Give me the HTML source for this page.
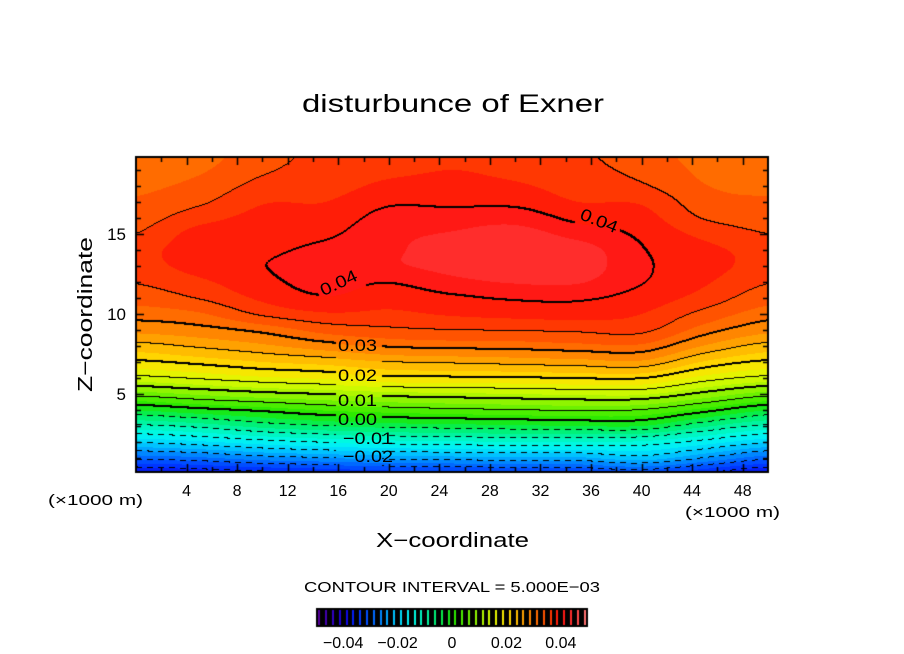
<!DOCTYPE html>
<html><head><meta charset="utf-8">
<style>
body{margin:0;background:#fff;width:904px;height:654px;overflow:hidden;font-family:"Liberation Sans","DejaVu Sans",sans-serif;}
#wrap{position:relative;width:904px;height:654px;}
canvas{position:absolute;left:0;top:0;}
svg{position:absolute;left:0;top:0;}
</style></head>
<body><div id="wrap">
<canvas id="cv" width="904" height="654"></canvas>
<svg id="sv" width="904" height="654">
<text x="302" y="112" font-size="25" textLength="302" lengthAdjust="spacingAndGlyphs">disturbunce of Exner</text>
<text x="376" y="547" font-size="20" textLength="153" lengthAdjust="spacingAndGlyphs">X−coordinate</text>
<text transform="translate(92,392) rotate(-90)" font-size="20" textLength="155" lengthAdjust="spacingAndGlyphs">Z−coordinate</text>
<text x="48" y="505" font-size="15" textLength="95" lengthAdjust="spacingAndGlyphs">(×1000 m)</text>
<text x="685" y="517" font-size="15" textLength="95" lengthAdjust="spacingAndGlyphs">(×1000 m)</text>
<text x="304" y="592" font-size="15" textLength="296" lengthAdjust="spacingAndGlyphs">CONTOUR INTERVAL = 5.000E−03</text>
<g font-size="17">
<text x="338" y="351" textLength="39" lengthAdjust="spacingAndGlyphs">0.03</text>
<text x="338" y="381" textLength="39" lengthAdjust="spacingAndGlyphs">0.02</text>
<text x="338" y="406" textLength="39" lengthAdjust="spacingAndGlyphs">0.01</text>
<text x="338" y="425" textLength="39" lengthAdjust="spacingAndGlyphs">0.00</text>
<text x="343" y="444" textLength="50" lengthAdjust="spacingAndGlyphs">−0.01</text>
<text x="343" y="462" textLength="50" lengthAdjust="spacingAndGlyphs">−0.02</text>
<text x="0" y="0" text-anchor="middle" textLength="39" lengthAdjust="spacingAndGlyphs" transform="translate(341,288) rotate(-25)">0.04</text>
<text x="0" y="0" text-anchor="middle" textLength="39" lengthAdjust="spacingAndGlyphs" transform="translate(597,226) rotate(22)">0.04</text>
</g>
</svg>
</div>
<script>
// grid: columns at X = 0,5,...,50 (x1000 m); rows at Z = 0..20
const xCoords=[0,5,10,15,20,25,30,35,40,45,50];
const zCoords=[0,1,2,3,4,5,6,7,8,9,10,11,12,13,14,15,16,17,18,19,20];
const col0=[-0.038,-0.029,-0.0195,-0.0105,-0.0023,0.0063,0.0142,0.0197,0.0241,0.0283,0.0312,0.0335,0.0352,0.0365,0.0365,0.035,0.0338,0.0328,0.032,0.0315,0.031];
const col5=[-0.037,-0.028,-0.018,-0.009,-0.0005,0.008,0.0155,0.021,0.0255,0.0292,0.0322,0.0352,0.037,0.0385,0.039,0.0385,0.0365,0.0345,0.0332,0.0322,0.0315];
const col10=[-0.036,-0.026,-0.016,-0.0065,0.001,0.0095,0.017,0.0225,0.027,0.0309,0.0355,0.038,0.0393,0.0399,0.0395,0.039,0.0383,0.0373,0.0358,0.0346,0.034];
const col15=[-0.035,-0.025,-0.0145,-0.005,0.0028,0.0105,0.018,0.0235,0.029,0.0335,0.0372,0.0398,0.0409,0.0412,0.0406,0.0395,0.0385,0.0375,0.0365,0.036,0.0356];
const col20=[-0.034,-0.024,-0.0135,-0.004,0.0038,0.0115,0.0195,0.025,0.0305,0.0345,0.037,0.0385,0.0402,0.0421,0.0421,0.0418,0.0409,0.0395,0.038,0.037,0.0365];
const col25=[-0.034,-0.0235,-0.013,-0.0035,0.0045,0.012,0.0198,0.0255,0.031,0.035,0.0378,0.0396,0.0418,0.0433,0.0435,0.0427,0.0412,0.0393,0.038,0.0375,0.037];
const col30=[-0.033,-0.023,-0.0125,-0.003,0.005,0.0125,0.02,0.026,0.0312,0.0352,0.0383,0.0404,0.0427,0.0442,0.0445,0.0436,0.0415,0.0392,0.0378,0.037,0.0367];
const col35=[-0.033,-0.023,-0.0125,-0.0025,0.0055,0.013,0.0205,0.0265,0.0318,0.0355,0.0385,0.0405,0.0427,0.0439,0.0437,0.0415,0.0392,0.0375,0.0365,0.0358,0.0354];
const col40=[-0.032,-0.021,-0.013,-0.0025,0.005,0.013,0.0205,0.027,0.032,0.0357,0.0375,0.039,0.0402,0.0405,0.0402,0.0395,0.0385,0.0372,0.0353,0.0343,0.0338];
const col45=[-0.035,-0.025,-0.016,-0.007,0.0015,0.0095,0.0165,0.0222,0.0273,0.0313,0.0342,0.0365,0.0378,0.0385,0.0382,0.0368,0.0348,0.0335,0.0326,0.032,0.0315];
const col50=[-0.038,-0.029,-0.0195,-0.0105,-0.0023,0.0063,0.0142,0.0197,0.0241,0.0283,0.0312,0.0335,0.0352,0.0365,0.0365,0.035,0.0338,0.0328,0.032,0.0315,0.031];
const columns=[col0,col5,col10,col15,col20,col25,col30,col35,col40,col45,col50];
const xTicks=[4,8,12,16,20,24,28,32,36,40,44,48];
const zTicks=[5,10,15];
const cbTicks=[-0.04,-0.02,0,0.02,0.04];
const cbTickLabels=["−0.04","−0.02","0","0.02","0.04"];
const contourInterval=0.005;

const PL=136,PR=768,PT=157,PB=472;
const xMin=0,xMax=50,zMin=0.125,zMax=19.81;
function xs(x){return PL+(x-xMin)/(xMax-xMin)*(PR-PL);}
function zs(z){return PB-(z-zMin)/(zMax-zMin)*(PB-PT);}
function xinv(px){return xMin+(px-PL)/(PR-PL)*(xMax-xMin);}
function zinv(py){return zMin+(PB-py)/(PB-PT)*(zMax-zMin);}

function cr(p0,p1,p2,p3,t){return 0.5*((2*p1)+(-p0+p2)*t+(2*p0-5*p1+4*p2-p3)*t*t+(-p0+3*p1-3*p2+p3)*t*t*t);}
function cell(a,i){return a[Math.max(0,Math.min(a.length-1,i))];}
function interp1(arr,u){const i=Math.floor(u);const t=u-i;return cr(cell(arr,i-1),cell(arr,i),cell(arr,i+1),cell(arr,i+2),t);}
function field(x,z){
  const dx=xCoords[1]-xCoords[0],dz=zCoords[1]-zCoords[0];
  let u=(x-xCoords[0])/dx, v=(z-zCoords[0])/dz;
  u=Math.max(0,Math.min(xCoords.length-1.0001,u));v=Math.max(0,Math.min(zCoords.length-1.0001,v));
  const i=Math.floor(u),t=u-i;
  const vals=[];
  for(let k=-1;k<=2;k++){vals.push(interp1(cell(columns,i+k),v));}
  return cr(vals[0],vals[1],vals[2],vals[3],t);
}
const stops=[[-0.05,[96,0,150]],[-0.04,[20,0,220]],[-0.035,[0,40,255]],[-0.03,[0,90,255]],[-0.025,[0,150,255]],[-0.02,[0,210,255]],[-0.015,[0,250,240]],[-0.01,[0,245,180]],[-0.005,[0,240,100]],[0,[30,230,0]],[0.005,[90,240,0]],[0.01,[160,245,0]],[0.015,[220,250,0]],[0.02,[255,225,0]],[0.025,[255,175,0]],[0.03,[255,120,0]],[0.035,[255,70,0]],[0.04,[255,15,10]],[0.045,[255,55,55]],[0.05,[255,130,130]]];
function color(v){
  if(v<=stops[0][0])return stops[0][1];
  for(let k=1;k<stops.length;k++){if(v<=stops[k][0]){const a=stops[k-1],b=stops[k];const t=(v-a[0])/(b[0]-a[0]);return a[1].map((c,j)=>Math.round(c+(b[1][j]-c)*t));}}
  return stops[stops.length-1][1];
}
const cv=document.getElementById('cv');const ctx=cv.getContext('2d');
const W=PR-PL,H=PB-PT;
const vals=new Float32Array((W+3)*(H+3));
for(let j=0;j<H+3;j++)for(let i=0;i<W+3;i++){vals[j*(W+3)+i]=field(xinv(PL+i+0.5),zinv(PT+j+0.5));}
const img=ctx.createImageData(W,H);
const band=0.0025;
for(let j=0;j<H;j++)for(let i=0;i<W;i++){
  const v=vals[j*(W+3)+i];const q=(Math.floor(v/band)+0.5)*band;const c=color(q);
  const o=(j*W+i)*4;img.data[o]=c[0];img.data[o+1]=c[1];img.data[o+2]=c[2];img.data[o+3]=255;
}
function lvl(v){return Math.floor(v/contourInterval);}
for(let j=0;j<H;j++)for(let i=0;i<W;i++){
  const a=vals[j*(W+3)+i],b=vals[j*(W+3)+i+1],c=vals[(j+1)*(W+3)+i];
  const la=lvl(a),lb=lvl(b),lc=lvl(c);
  let L=null;
  if(la!==lb)L=Math.max(la,lb)*contourInterval;else if(la!==lc)L=Math.max(la,lc)*contourInterval;
  if(L===null){const d=vals[(j+2)*(W+3)+i],e=vals[j*(W+3)+i+2];const ld=lvl(d),le=lvl(e);
    if(ld!==la){const LL=Math.max(la,ld)*contourInterval;if(Math.abs(Math.round(LL*100)-LL*100)<1e-6&&LL>-1e-9){L=LL;}}
    else if(le!==la){const LL=Math.max(la,le)*contourInterval;if(Math.abs(Math.round(LL*100)-LL*100)<1e-6&&LL>-1e-9){L=LL;}}
  }
  if(L===null)continue;
  if(L<-1e-9 && (i%11)>=6)continue;
  const px=PL+i;
  if(px>335&&px<382&&j+PT>330&&j+PT<466)continue;
  if(px>318&&px<366&&j+PT>268&&j+PT<298)continue;
  if(px>574&&px<620&&j+PT>208&&j+PT<236)continue;
  const o=(j*W+i)*4;img.data[o]=0;img.data[o+1]=0;img.data[o+2]=0;
}
ctx.putImageData(img,PL,PT);
ctx.strokeStyle='#000';ctx.lineWidth=2;ctx.strokeRect(PL,PT,W,H);
ctx.lineWidth=1.5;
for(let x=2;x<50;x+=2){const p=Math.round(xs(x))+0.5;const len=(x%4===0)?8:5;
  ctx.beginPath();ctx.moveTo(p,PB);ctx.lineTo(p,PB-len);ctx.moveTo(p,PT);ctx.lineTo(p,PT+len);ctx.stroke();}
for(let z=1;z<20;z++){const p=Math.round(zs(z))+0.5;const len=(z%5===0)?8:5;
  ctx.beginPath();ctx.moveTo(PL,p);ctx.lineTo(PL+len,p);ctx.moveTo(PR,p);ctx.lineTo(PR-len,p);ctx.stroke();}
const CBL=316,CBR=588,CBT=608,CBB=627,cbMin=-0.05,cbMax=0.05;
function cbx(v){return CBL+(v-cbMin)/(cbMax-cbMin)*(CBR-CBL);}
ctx.fillStyle='#000';ctx.fillRect(CBL,CBT,CBR-CBL,CBB-CBT);
for(let v=cbMin;v<cbMax-1e-9;v+=band){const c=color(v+band/2);ctx.fillStyle='rgb('+c.join(',')+')';
  ctx.fillRect(Math.round(cbx(v+band/2))-1,CBT+2,2,CBB-CBT-4);}
const sv=document.getElementById('sv');const NS='http://www.w3.org/2000/svg';
xTicks.forEach(x=>{const t=document.createElementNS(NS,'text');


t.setAttribute('x',xs(x));t.setAttribute('y',496);t.setAttribute('font-size','16');t.setAttribute('text-anchor','middle');t.textContent=x;sv.appendChild(t);});
zTicks.forEach(z=>{const t=document.createElementNS(NS,'text');


t.setAttribute('x',126);t.setAttribute('y',zs(z)+6);t.setAttribute('font-size','17');t.setAttribute('text-anchor','end');t.textContent=z;sv.appendChild(t);});
cbTicks.forEach((v,k)=>{const t=document.createElementNS(NS,'text');


t.setAttribute('x',cbx(v));t.setAttribute('y',648);t.setAttribute('font-size','16');t.setAttribute('text-anchor','middle');t.textContent=cbTickLabels[k];sv.appendChild(t);});
</script>
</body></html>
